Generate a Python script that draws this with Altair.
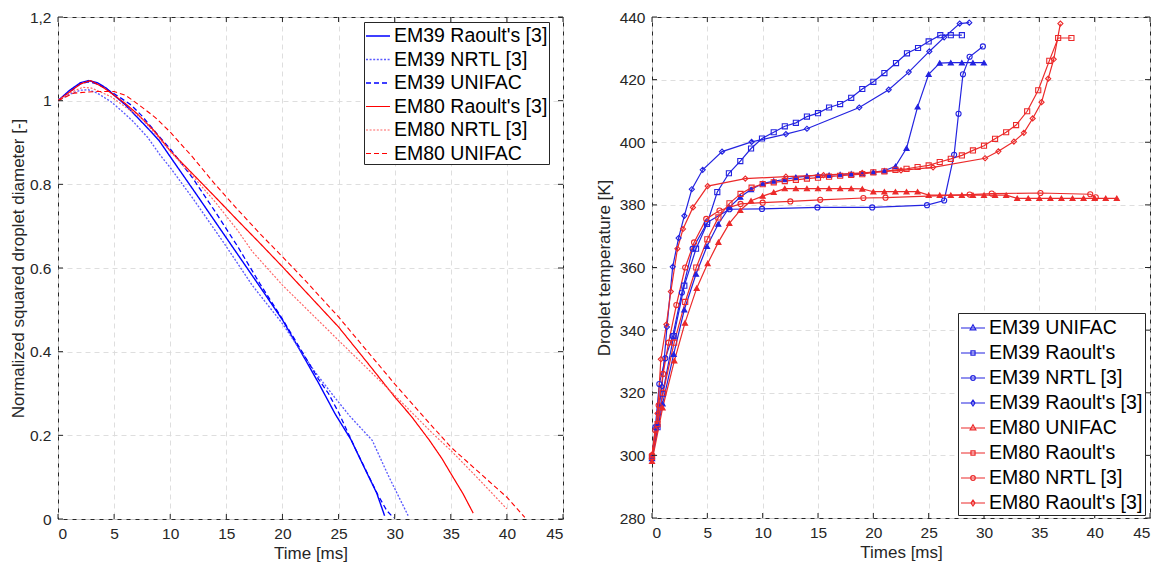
import altair as alt
import pandas as pd

FONT = "Liberation Sans"
AX = "#262626"

# ---------------- Left panel data (normalized squared diameter) ----------------
left_series = ["EM39 Raoult's [3]", "EM39 NRTL [3]", "EM39 UNIFAC",
               "EM80 Raoult's [3]", "EM80 NRTL [3]", "EM80 UNIFAC"]
left_colors = ["#0000ff", "#5a5aff", "#0000ff", "#ff0000", "#ff6464", "#ff0000"]
left_dash = [[1, 0], [2, 1.6], [5, 3], [1, 0], [2, 1.6], [5, 3]]
left_width = [1.4, 1.1, 1.4, 1.4, 1.1, 1.4]

em39_raoult3_t = [0, 1, 2, 2.7, 3.5, 4.3, 5, 6, 7, 8, 9, 10, 12, 14, 16, 18, 20, 21.7, 23.2, 24.7, 26.1, 27.4, 28.4, 29.1]
em39_raoult3_v = [1.0, 1.024, 1.043, 1.048, 1.043, 1.03, 1.013, 0.99, 0.962, 0.934, 0.905, 0.866, 0.789, 0.711, 0.633, 0.555, 0.476, 0.397, 0.326, 0.251, 0.19, 0.117, 0.062, 0.008]

em39_nrtl3_t = [0, 1, 2, 2.7, 3.5, 4.7, 5.7, 6.7, 8, 9.1, 10, 12, 14.7, 17.3, 20, 21.8, 22.8, 24.5, 26, 28, 29.5, 31.2]
em39_nrtl3_v = [1.0, 1.015, 1.025, 1.026, 1.018, 0.998, 0.975, 0.95, 0.912, 0.87, 0.84, 0.767, 0.663, 0.559, 0.467, 0.395, 0.355, 0.296, 0.246, 0.188, 0.1, 0.008]

em39_unifac_t = [0, 1, 2, 2.7, 3.5, 4.5, 5.5, 6.5, 7.5, 9, 10, 12, 14, 16, 18, 20, 21.7, 23.2, 24.1, 25, 25.6, 26.5, 27.5, 28.5, 29.3, 29.9]
em39_unifac_v = [1.0, 1.02, 1.04, 1.045, 1.04, 1.025, 1.008, 0.99, 0.963, 0.915, 0.885, 0.815, 0.735, 0.652, 0.562, 0.478, 0.402, 0.335, 0.3, 0.255, 0.22, 0.168, 0.113, 0.058, 0.02, 0.003]

em80_raoult3_t = [0, 1, 2, 2.9, 4, 5, 6, 7, 8.5, 10, 12, 14, 16, 18, 20, 22.5, 25, 27.5, 30, 31.5, 33.1, 34.2, 35.2, 36.1, 37.0]
em80_raoult3_v = [1.0, 1.02, 1.04, 1.048, 1.032, 1.013, 0.993, 0.97, 0.93, 0.88, 0.825, 0.77, 0.714, 0.659, 0.603, 0.531, 0.459, 0.376, 0.292, 0.245, 0.188, 0.145, 0.1, 0.06, 0.014]

em80_nrtl3_t = [0, 1, 2.2, 3, 4.7, 6, 7.4, 8.7, 10, 12, 14, 16, 17.3, 20, 25, 30, 33.4, 35, 37.5, 40]
em80_nrtl3_v = [1.0, 1.018, 1.032, 1.03, 1.01, 0.985, 0.959, 0.92, 0.879, 0.82, 0.758, 0.69, 0.64, 0.559, 0.427, 0.296, 0.204, 0.164, 0.095, 0.024]

em80_unifac_t = [0, 1.4, 3.4, 5, 6, 6.7, 7.7, 8.7, 10, 12, 14, 16, 18, 20, 22, 25, 27.5, 30, 32.5, 35, 37.5, 40, 41.6]
em80_unifac_v = [1.0, 1.018, 1.022, 1.022, 1.013, 1.0, 0.98, 0.959, 0.925, 0.865, 0.8, 0.74, 0.682, 0.627, 0.571, 0.483, 0.403, 0.323, 0.247, 0.172, 0.112, 0.052, 0.004]

left_x_ticks = [0, 5, 10, 15, 20, 25, 30, 35, 40, 45]
left_y_ticks = [0, 0.2, 0.4, 0.6, 0.8, 1.0, 1.2]

# ---------------- Right panel data (droplet temperature) ----------------
right_series = ["EM39 UNIFAC", "EM39 Raoult's", "EM39 NRTL [3]", "EM39 Raoult's [3]",
                "EM80 UNIFAC", "EM80 Raoult's", "EM80 NRTL [3]", "EM80 Raoult's [3]"]
BLUE = "#2323e0"
RED = "#ec2a2a"
right_colors = [BLUE] * 4 + [RED] * 4
right_shapes = ["triangle-up", "square", "circle", "diamond"] * 2
right_fills = [BLUE, "transparent", "transparent", "transparent",
               RED, "transparent", "transparent", "transparent"]

r_em39_unifac_t = [0, 0.96, 1.96, 2.92, 3.98, 4.97, 5.99, 6.99, 7.98, 8.95, 10, 11, 12, 13, 14, 15, 16, 17, 18, 19, 20, 21, 22, 23, 24, 25, 26, 27, 28, 29, 30]
r_em39_unifac_T = [299, 316.5, 332.3, 346.5, 357.9, 366.8, 373.9, 379.2, 382.5, 384.9, 386.8, 387.6, 388.1, 388.8, 389.2, 389.5, 389.5, 389.7, 389.9, 390.1, 390.5, 390.9, 392.3, 398.1, 411.3, 421.7, 425.3, 425.4, 425.4, 425.4, 425.4]

r_em39_raoult_t = [0, 0.5, 0.96, 1.96, 2.92, 3.98, 4.97, 5.9, 6.95, 7.98, 8.95, 9.94, 11, 12, 13, 14, 15, 16, 17, 18, 19, 20, 21, 22.05, 23.04, 24.04, 25, 26.05, 27, 28]
r_em39_raoult_T = [299.2, 309, 319.7, 338.1, 354.2, 366, 373.9, 384.1, 390.1, 394, 398, 401.2, 403.2, 405.1, 406.2, 408.2, 409.3, 411.1, 412.2, 414.2, 417, 419.3, 422.1, 425.3, 428.4, 430.1, 432.2, 434.2, 434.2, 434.2]

r_em39_nrtl3_t = [0, 0.3, 0.66, 1.2, 1.87, 2.7, 3.67, 5.0, 7.0, 9.94, 14.95, 19.9, 24.85, 26.4, 27.3, 27.7, 28.1, 28.7, 29.9]
r_em39_nrtl3_T = [299.2, 309, 322.8, 331, 338.1, 352, 366, 374.4, 378.6, 378.7, 379.2, 379.2, 379.9, 381.4, 396, 409.1, 421.7, 427.3, 430.6]

r_em39_raoult3_t = [0, 0.4, 0.9, 1.35, 1.87, 2.4, 2.92, 3.6, 4.58, 6.33, 9.0, 12.1, 14.0, 18.73, 21.39, 23.2, 25.06, 26.4, 27.8, 28.67]
r_em39_raoult3_T = [299, 309, 322, 341, 360.2, 369.4, 376.5, 385, 391.2, 397, 400.1, 402.6, 404.3, 411.1, 416.8, 422.4, 429, 433.5, 437.9, 438.2]

r_em80_unifac_t = [0, 0.96, 2.02, 2.98, 4.04, 5.03, 6, 6.99, 7.98, 8.95, 10, 11, 12, 13, 14, 15, 16, 17, 18, 19, 20, 21, 22, 23, 24, 25, 26, 27, 28, 29, 30, 31, 32, 33, 34, 35, 36, 37, 38, 39, 40, 41, 42]
r_em80_unifac_T = [298.1, 315.2, 330.2, 342.3, 353.4, 361.3, 368.1, 374.1, 378.3, 381.3, 382.8, 384.0, 385.2, 385.2, 385.2, 385.2, 385.2, 385.2, 385.2, 385.1, 384.2, 384.2, 384.2, 384.2, 384.2, 383.1, 383.1, 383.1, 383.1, 383.1, 383.1, 383.1, 383.1, 382.1, 382.1, 382.1, 382.1, 382.1, 382.1, 382.1, 382.1, 382.1, 382.1]

r_em80_raoult_t = [0, 0.5, 1, 2, 3, 4, 5, 6, 7, 8, 9, 10, 11, 12, 13, 14, 15, 16, 17, 18, 19, 20, 21, 22, 23, 24, 25, 26, 27, 28, 29, 30, 31, 32, 32.9, 33.9, 34.9, 35.9, 36.7, 37.9]
r_em80_raoult_T = [299.5, 310, 320, 336, 349, 360, 369, 376, 380.5, 383.5, 385.5, 386.6, 387.2, 387.6, 388, 388.4, 388.7, 389, 389.3, 389.6, 389.8, 390.4, 390.7, 391.2, 391.5, 392.1, 392.6, 393.7, 394.7, 395.8, 397.4, 398.9, 401.1, 403.2, 405.5, 409.9, 416.6, 426, 433.3, 433.3]

r_em80_nrtl3_t = [0, 0.3, 0.6, 1.0, 1.5, 2.2, 3.0, 3.8, 4.9, 6.1, 8.0, 10.0, 12.5, 15.2, 19.1, 21.1, 28.7, 30.7, 35.1, 39.6, 40.1]
r_em80_nrtl3_T = [300, 308, 316, 326, 336, 348, 360, 368, 375.5, 378.2, 380.3, 380.7, 381.1, 381.6, 382.2, 382.3, 383.3, 383.6, 383.8, 383.4, 382.4]

r_em80_raoult3_t = [0, 0.5, 0.8, 1.3, 1.7, 2.3, 2.8, 3.7, 5.03, 8.43, 12.1, 15.5, 19, 22.5, 25.4, 30.1, 31.3, 32.7, 33.6, 34.4, 35.2, 35.8, 36.3, 36.9]
r_em80_raoult3_T = [300.2, 313.4, 330.7, 341.8, 352.3, 366, 372.3, 379.2, 386, 388.4, 389.0, 389.5, 390.2, 391.0, 392.0, 394.9, 397.1, 400.2, 403, 407.6, 412.8, 420.3, 426.5, 437.9]

right_x_ticks = [0, 5, 10, 15, 20, 25, 30, 35, 40, 45]
right_y_ticks = [280, 300, 320, 340, 360, 380, 400, 420, 440]

# ---------------- Build tables ----------------
def long(names, ts, vs, vname):
    rows = []
    for n, t, v in zip(names, ts, vs):
        for i, (a, b) in enumerate(zip(t, v)):
            rows.append({"series": n, "t": a, vname: b, "order": i})
    return pd.DataFrame(rows)

left_df = long(left_series,
               [em39_raoult3_t, em39_nrtl3_t, em39_unifac_t, em80_raoult3_t, em80_nrtl3_t, em80_unifac_t],
               [em39_raoult3_v, em39_nrtl3_v, em39_unifac_v, em80_raoult3_v, em80_nrtl3_v, em80_unifac_v], "v")
right_df = long(right_series,
                [r_em39_unifac_t, r_em39_raoult_t, r_em39_nrtl3_t, r_em39_raoult3_t,
                 r_em80_unifac_t, r_em80_raoult_t, r_em80_nrtl3_t, r_em80_raoult3_t],
                [r_em39_unifac_T, r_em39_raoult_T, r_em39_nrtl3_T, r_em39_raoult3_T,
                 r_em80_unifac_T, r_em80_raoult_T, r_em80_nrtl3_T, r_em80_raoult3_T], "T")
right_df["leg"] = right_df["series"]

LW, LH = 505, 502
RW, RH = 498, 501
TICK = 5

axis_common = dict(grid=True, ticks=False, domain=False, labelPadding=7,
                   labelFontSize=15.5, titleFontSize=17, titleFontWeight="normal",
                   labelColor=AX, titleColor=AX, gridColor="#dadada", gridDash=[5, 4],
                   gridWidth=0.9, labelFont=FONT, titleFont=FONT)

def tick_layers(xs, ys, xaxis, yaxis, xticks, yticks, W, H):
    tx = pd.DataFrame({"tx": xticks})
    ty = pd.DataFrame({"ty": yticks})
    bx = alt.X("tx:Q", scale=xs, axis=xaxis)
    by = alt.Y("ty:Q", scale=ys, axis=yaxis)
    r = dict(color=AX, strokeWidth=1)
    return [
        alt.Chart(tx).mark_rule(**r).encode(x=bx, y=alt.value(H), y2=alt.value(H - TICK)),
        alt.Chart(tx).mark_rule(**r).encode(x=bx, y=alt.value(0), y2=alt.value(TICK)),
        alt.Chart(ty).mark_rule(**r).encode(y=by, x=alt.value(0), x2=alt.value(TICK)),
        alt.Chart(ty).mark_rule(**r).encode(y=by, x=alt.value(W), x2=alt.value(W - TICK)),
    ]

# ---------------- Left chart ----------------
lxs = alt.Scale(domain=[0, 45], nice=False, zero=False)
lys = alt.Scale(domain=[0, 1.2], nice=False, zero=False)
lx_axis = alt.Axis(title="Time [ms]", values=left_x_ticks, titlePadding=4, **axis_common)
ly_axis = alt.Axis(title="Normalized squared droplet diameter [-]", values=left_y_ticks, titlePadding=2,
                   labelExpr="datum.value == 1.2 ? '1,2' : format(datum.value, '~g')", **axis_common)

lleg = dict(title=None, orient="none", legendX=306, legendY=5,
            fillColor="white", strokeColor=AX, padding=1,
            labelFontSize=19.5, labelColor="black", labelFont=FONT,
            symbolSize=576, symbolStrokeWidth=1.3, rowPadding=0.5,
            labelOffset=3, labelLimit=0, symbolType="stroke")

left_lines = alt.Chart(left_df).mark_line(clip=True).encode(
    x=alt.X("t:Q", scale=lxs, axis=lx_axis),
    y=alt.Y("v:Q", scale=lys, axis=ly_axis),
    color=alt.Color("series:N", scale=alt.Scale(domain=left_series, range=left_colors),
                    legend=alt.Legend(**lleg)),
    strokeDash=alt.StrokeDash("series:N", scale=alt.Scale(domain=left_series, range=left_dash),
                              legend=alt.Legend(**lleg)),
    strokeWidth=alt.StrokeWidth("series:N", scale=alt.Scale(domain=left_series, range=left_width), legend=None),
    order="order:Q",
)

left = alt.layer(left_lines, *tick_layers(lxs, lys, lx_axis, ly_axis, left_x_ticks, left_y_ticks, LW, LH)).properties(
    width=LW, height=LH)

# ---------------- Right chart ----------------
rxs = alt.Scale(domain=[0, 45], nice=False, zero=False)
rys = alt.Scale(domain=[280, 440], nice=False, zero=False)
rx_axis = alt.Axis(title="Times [ms]", values=right_x_ticks, titlePadding=4, **axis_common)
ry_axis = alt.Axis(title="Droplet temperature [K]", values=right_y_ticks, titlePadding=6, **axis_common)

r_x = alt.X("t:Q", scale=rxs, axis=rx_axis)
r_y = alt.Y("T:Q", scale=rys, axis=ry_axis)

right_lines = alt.Chart(right_df).mark_line(strokeWidth=1.2).encode(
    x=r_x, y=r_y,
    color=alt.Color("series:N", scale=alt.Scale(domain=right_series, range=right_colors), legend=None),
    order="order:Q",
)
right_points = alt.Chart(right_df).mark_point(size=26, strokeWidth=1.1, opacity=1).encode(
    x=r_x, y=r_y,
    stroke=alt.Stroke("series:N", scale=alt.Scale(domain=right_series, range=right_colors), legend=None),
    fill=alt.Fill("series:N", scale=alt.Scale(domain=right_series, range=right_fills), legend=None),
    shape=alt.Shape("series:N", scale=alt.Scale(domain=right_series, range=right_shapes), legend=None),
)

legend_paths = [
    "M-1,0H1M0,-0.27L0.24,0.16L-0.24,0.16Z",
    "M-1,0H1M-0.17,-0.17H0.17V0.17H-0.17Z",
    "M-1,0H1M0.19,0A0.19,0.19,0,1,1,-0.19,0A0.19,0.19,0,1,1,0.19,0Z",
    "M-1,0H1M0,-0.24L0.17,0L0,0.24L-0.17,0Z",
] * 2
rleg = dict(title=None, orient="none", legendX=306, legendY=296, fillColor="white",
            strokeColor=AX, padding=2, labelFontSize=19.5, labelColor="black", labelFont=FONT,
            symbolSize=576, symbolStrokeWidth=1.2, symbolOpacity=1, rowPadding=2,
            labelOffset=3, labelLimit=0)
right_legend = alt.Chart(right_df).mark_point(filled=False, strokeWidth=1.2, opacity=1).encode(
    x=r_x, y=r_y,
    color=alt.Color("leg:N", scale=alt.Scale(domain=right_series, range=right_colors), legend=alt.Legend(**rleg)),
    shape=alt.Shape("leg:N", scale=alt.Scale(domain=right_series, range=legend_paths), legend=alt.Legend(**rleg)),
).transform_filter("false")

right = alt.layer(right_lines, right_points, right_legend,
                  *tick_layers(rxs, rys, rx_axis, ry_axis, right_x_ticks, right_y_ticks, RW, RH)).resolve_scale(
    color="independent", shape="independent").properties(width=RW, height=RH)

chart = alt.hconcat(left, right, spacing=30).properties(
    padding={"left": 0, "top": 1, "right": 0, "bottom": 0}
).configure(font=FONT).configure_view(stroke=AX, strokeWidth=1)

chart.save("out.html", embed_options={"renderer": "svg", "actions": False})
